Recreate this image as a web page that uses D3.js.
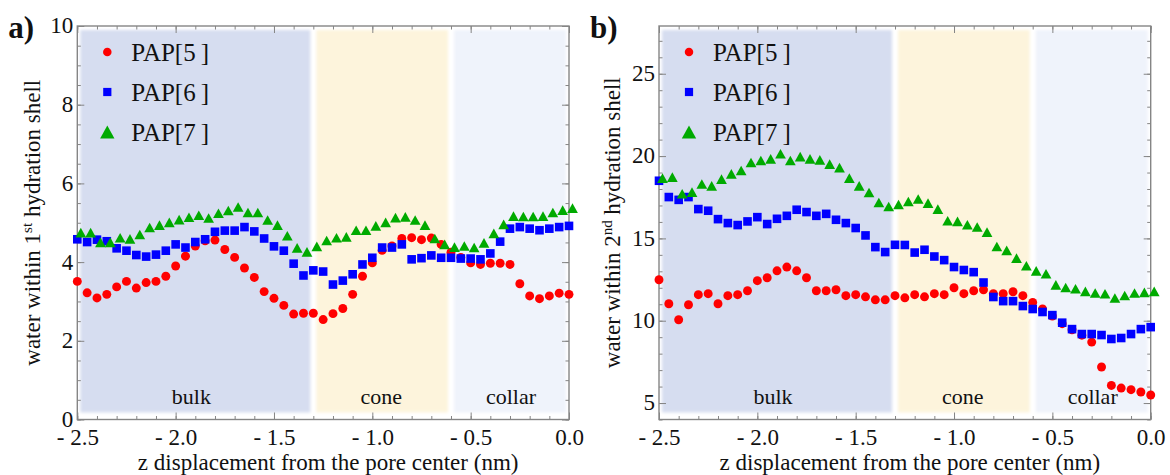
<!DOCTYPE html>
<html>
<head>
<meta charset="utf-8">
<script src="https://cdn.jsdelivr.net/npm/d3@7"></script>
<style>
  body { margin: 0; background: #fff; }
  text { font-family: 'Liberation Serif', 'Times New Roman', serif; fill: #111; }
</style>
</head>
<body>
<svg id="chart" width="1170" height="475"></svg>
<script>
// z displacement (nm), one sample every 0.05 nm
const zValues = [-2.50, -2.45, -2.40, -2.35, -2.30, -2.25, -2.20, -2.15, -2.10, -2.05,
  -2.00, -1.95, -1.90, -1.85, -1.80, -1.75, -1.70, -1.65, -1.60, -1.55,
  -1.50, -1.45, -1.40, -1.35, -1.30, -1.25, -1.20, -1.15, -1.10, -1.05,
  -1.00, -0.95, -0.90, -0.85, -0.80, -0.75, -0.70, -0.65, -0.60, -0.55,
  -0.50, -0.45, -0.40, -0.35, -0.30, -0.25, -0.20, -0.15, -0.10, -0.05, 0.00]

// panel a) water within 1st hydration shell
const pap5First = [3.51, 3.22, 3.09, 3.18, 3.37, 3.51, 3.34, 3.48, 3.51, 3.64,
  3.90, 4.15, 4.41, 4.54, 4.56, 4.32, 4.12, 3.85, 3.61, 3.25,
  3.08, 2.90, 2.68, 2.70, 2.70, 2.54, 2.69, 2.82, 3.18, 3.64,
  3.98, 4.30, 4.41, 4.60, 4.62, 4.57, 4.61, 4.45, 4.25, 4.12,
  3.98, 3.94, 3.97, 3.97, 3.94, 3.45, 3.14, 3.07, 3.14, 3.21, 3.18]
const pap6First = [4.58, 4.51, 4.57, 4.53, 4.35, 4.29, 4.18, 4.14, 4.19, 4.29,
  4.45, 4.37, 4.51, 4.58, 4.77, 4.80, 4.80, 4.89, 4.78, 4.60,
  4.40, 4.29, 3.96, 3.66, 3.79, 3.76, 3.43, 3.53, 3.69, 3.94,
  4.11, 4.37, 4.37, 4.45, 4.07, 4.10, 4.17, 4.11, 4.11, 4.09,
  4.09, 4.07, 4.22, 4.52, 4.85, 4.89, 4.85, 4.81, 4.85, 4.89, 4.92]
const pap7First = [4.75, 4.75, 4.50, 4.50, 4.62, 4.59, 4.70, 4.88, 4.94, 5.01,
  5.08, 5.14, 5.19, 5.12, 5.24, 5.31, 5.40, 5.26, 5.26, 5.07,
  4.94, 4.67, 4.36, 4.26, 4.40, 4.55, 4.62, 4.64, 4.81, 4.81,
  4.92, 5.01, 5.13, 5.15, 5.07, 4.94, 4.60, 4.45, 4.38, 4.41,
  4.37, 4.49, 4.73, 4.96, 5.17, 5.16, 5.16, 5.17, 5.26, 5.32, 5.37]

// panel b) water within 2nd hydration shell
const pap5Second = [12.49, 11.03, 10.06, 10.97, 11.58, 11.64, 11.03, 11.52, 11.58, 11.82,
  12.43, 12.61, 13.03, 13.26, 13.03, 12.61, 11.82, 11.82, 11.88, 11.52,
  11.58, 11.45, 11.27, 11.27, 11.52, 11.39, 11.58, 11.45, 11.64, 11.58,
  12.00, 11.64, 11.82, 11.88, 11.64, 11.64, 11.76, 11.52, 11.11, 10.72,
  10.28, 9.82, 9.45, 9.12, 8.70, 7.19, 6.07, 5.91, 5.81, 5.67, 5.49]
const pap6Second = [18.50, 17.51, 17.34, 17.51, 16.78, 16.68, 16.17, 15.93, 15.81, 16.03,
  16.29, 15.87, 16.19, 16.37, 16.74, 16.60, 16.37, 16.49, 16.13, 15.93,
  15.63, 15.18, 14.47, 14.17, 14.61, 14.60, 14.14, 14.31, 13.90, 13.68,
  13.26, 13.08, 12.95, 12.32, 11.44, 11.19, 11.19, 10.89, 10.71, 10.53,
  10.34, 9.88, 9.49, 9.19, 9.19, 9.13, 8.89, 8.95, 9.19, 9.49, 9.61]
const pap7Second = [18.66, 18.72, 17.71, 17.81, 18.30, 18.19, 18.60, 18.92, 19.12, 19.61,
  19.73, 19.83, 20.14, 19.73, 19.97, 19.83, 19.77, 19.51, 19.30, 18.66,
  18.19, 17.79, 17.18, 16.94, 17.06, 17.24, 17.39, 17.14, 16.78, 16.07,
  16.03, 15.83, 15.69, 15.38, 14.51, 14.27, 13.80, 13.34, 13.03, 12.85,
  12.18, 12.02, 11.94, 11.78, 11.68, 11.64, 11.38, 11.53, 11.68, 11.72, 11.78]

const seriesNames = ['PAP[5\u2009]', 'PAP[6\u2009]', 'PAP[7\u2009]']
const seriesColors = ['#ff0000', '#0000ff', '#00aa00']
const seriesShapes = ['circle', 'square', 'triangle']

const regionNames = ['bulk', 'cone', 'collar']
const regionStart = [-2.5, -1.3, -0.6]
const regionEnd = [-1.3, -0.6, 0.0]
const regionLabelZ = [-1.92, -0.955, -0.295]
const regionColors = ['#d6ddf0', '#fdf4dc', '#eff3fb']

const xTicks = [-2.5, -2.0, -1.5, -1.0, -0.5, 0.0]
const xTickLabels = ['- 2.5', '- 2.0', '- 1.5', '- 1.0', '- 0.5', '0.0']
const yTicksFirst = [0, 2, 4, 6, 8, 10]
const yTicksSecond = [5, 10, 15, 20, 25]

const xTitle = 'z displacement from the pore center (nm)'

const svg = d3.select('#chart')
const frameColor = '#858585'
const plotTop = 26, plotBottom = 419.5

svg.append('defs').append('filter')
  .attr('id', 'soft')
  .attr('x', '-5%').attr('y', '-5%').attr('width', '110%').attr('height', '110%')
  .append('feGaussianBlur').attr('stdDeviation', 1.6)

let drawMarker = (g, shape, color, size, triScale) => {
  if (shape === 'circle') {
    g.append('circle').attr('r', size * 0.52).attr('fill', color)
  } else if (shape === 'square') {
    g.append('rect').attr('x', -size / 2).attr('y', -size / 2)
      .attr('width', size).attr('height', size).attr('fill', color)
  } else {
    const w = size * 1.25 * triScale, h = size * 1.12 * triScale
    g.append('path')
      .attr('d', 'M0,' + (-h / 2) + 'L' + (w / 2) + ',' + (h / 2) + 'L' + (-w / 2) + ',' + (h / 2) + 'Z')
      .attr('transform', 'translate(' + (triScale > 1 ? 0 : 3.5) + ',0)')
      .attr('fill', color)
  }
}

let drawPanel = (p) => {
  const g = svg.append('g')
  const x = d3.scaleLinear().domain([-2.5, 0]).range([p.left, p.right])
  const y = d3.scaleLinear().domain(p.yDomain).range([plotBottom, plotTop])

  // shaded regions
  regionNames.forEach((name, i) => {
    g.append('rect')
      .attr('x', x(regionStart[i]) + 3)
      .attr('width', x(regionEnd[i]) - x(regionStart[i]) - 6)
      .attr('y', plotTop + 4)
      .attr('height', plotBottom - plotTop - 11)
      .attr('fill', regionColors[i])
      .attr('filter', 'url(#soft)')
    g.append('text')
      .attr('x', x(regionLabelZ[i]))
      .attr('y', plotBottom - 16)
      .attr('text-anchor', 'middle')
      .attr('font-size', 22)
      .text(name)
  })

  // axes with inward ticks
  const minorX = d3.range(-2.5, 0.001, 0.1)
  const minorY = d3.range(p.yDomain[0], p.yDomain[1] + 0.001, p.yMinor)
  const axes = [
    [d3.axisBottom(x), 'translate(0,' + plotBottom + ')'],
    [d3.axisTop(x), 'translate(0,' + plotTop + ')'],
    [d3.axisLeft(y), 'translate(' + p.left + ',0)'],
    [d3.axisRight(y), 'translate(' + p.right + ',0)']
  ]
  axes.forEach(([ax, tr], k) => {
    const isX = k < 2
    g.append('g').attr('transform', tr)
      .call(ax.tickValues(isX ? minorX : minorY).tickSize(-3.5).tickFormat(''))
      .call(s => s.select('.domain').remove())
      .call(s => s.selectAll('line').attr('stroke', frameColor))
    const major = g.append('g').attr('transform', tr)
      .call(ax.tickValues(isX ? xTicks : p.yTicks).tickSize(-7).tickPadding(4)
        .tickFormat((d, i) => (k === 0 ? xTickLabels[i] : (k === 2 ? d : ''))))
      .call(s => s.select('.domain').remove())
      .call(s => s.selectAll('line').attr('stroke', frameColor))
    major.selectAll('text')
      .attr('font-size', 23)
      .attr('font-family', "'Liberation Serif', 'Times New Roman', serif")
      .attr('fill', '#111')
    if (k === 0) major.selectAll('text').attr('y', 25).attr('dy', null)
    if (k === 2) major.selectAll('text').attr('dy', '0.3em')
  })

  g.append('rect')
    .attr('x', p.left).attr('y', plotTop)
    .attr('width', p.right - p.left).attr('height', plotBottom - plotTop)
    .attr('fill', 'none').attr('stroke', frameColor).attr('stroke-width', 1.4)

  // data points
  p.series.forEach((vals, si) => {
    const pts = g.append('g').selectAll('g')
      .data(vals.map((v, i) => ({z: zValues[i], v: v})))
      .enter().append('g')
      .attr('transform', d => 'translate(' + x(d.z) + ',' + y(d.v) + ')')
    pts.each(function () { drawMarker(d3.select(this), seriesShapes[si], seriesColors[si], 8.6, 1) })
  })

  // legend
  seriesNames.forEach((name, i) => {
    const ly = 52 + i * 40
    const mk = g.append('g').attr('transform', 'translate(' + (p.left + 30) + ',' + ly + ')')
    drawMarker(mk, seriesShapes[i], seriesColors[i], 8.2, 1.4)
    g.append('text')
      .attr('x', p.left + 54)
      .attr('y', ly + 9)
      .attr('font-size', 25)
      .text(name)
  })

  // titles
  const yt = g.append('text')
    .attr('transform', 'translate(' + p.yTitleX + ',' + ((plotTop + plotBottom) / 2) + ') rotate(-90)')
    .attr('text-anchor', 'middle')
    .attr('font-size', 23)
  yt.append('tspan').text('water within ' + p.ordinal[0])
  yt.append('tspan').attr('dy', -8).attr('font-size', 15).text(p.ordinal[1])
  yt.append('tspan').attr('dy', 8).text(' hydration shell')

  g.append('text')
    .attr('x', (p.left + p.right) / 2 + 5)
    .attr('y', 470)
    .attr('text-anchor', 'middle')
    .attr('font-size', 23)
    .text(xTitle)

  g.append('text')
    .attr('x', p.left - 69)
    .attr('y', 38)
    .attr('font-size', 31)
    .attr('font-weight', 'bold')
    .text(p.tag)
}

drawPanel({
  left: 77.3, right: 569, yDomain: [0, 10], yTicks: yTicksFirst, yMinor: 0.5,
  series: [pap5First, pap6First, pap7First], yTitleX: 40, ordinal: ['1', 'st'], tag: 'a)'
})
drawPanel({
  left: 659, right: 1150.7, yDomain: [4, 27.9], yTicks: yTicksSecond, yMinor: 1,
  series: [pap5Second, pap6Second, pap7Second], yTitleX: 620, ordinal: ['2', 'nd'], tag: 'b)'
})
</script>
</body>
</html>
